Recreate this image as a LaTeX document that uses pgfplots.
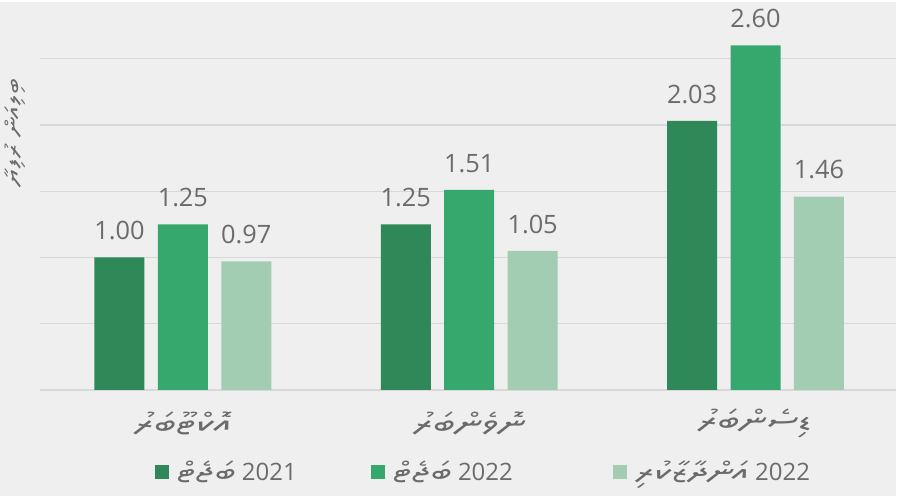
\documentclass[border=0pt]{standalone}
\usepackage{pgfplots}
\pgfplotsset{compat=1.18}
\usepackage{fontspec}
\setmainfont{Open Sans}
\TeXXeTstate=1
\newfontfamily\thaana[Script=Thaana, FakeStretch=1.45]{Noto Sans Thaana}
\definecolor{bg}{HTML}{EFEFEF}
\definecolor{cA}{HTML}{2E8857}
\definecolor{cB}{HTML}{36A86D}
\definecolor{cC}{HTML}{A3CDB3}
\definecolor{gridc}{HTML}{D8D8D8}
\definecolor{txt}{HTML}{6B6B6B}
\newcommand{\thtxt}[1]{{\thaana\beginR #1\endR}}
\newcommand{\thleg}[1]{\hspace{4pt}{\thaana\fontsize{20}{20}\selectfont\beginR #1\endR}}
\begin{document}
\begin{tikzpicture}
\fill[bg] (0,0) rectangle (672.75pt,370.5pt);
\begin{axis}[
 at={(30pt,79.5pt)}, anchor=south west,
 scale only axis, width=642.75pt, height=288.4pt,
 xmin=-0.499, xmax=2.492, ymin=0, ymax=2.9,
 axis line style={draw=none},
 major tick style={draw=none},
 ytick={0,0.5,1,1.5,2,2.5}, yticklabels={},
 ymajorgrids, grid style={draw=gridc, line width=0.9pt},
 xtick={0,1,2},
 xticklabels={\thtxt{އޮކްޓޫބަރު},\thtxt{ނޮވެންބަރު},\thtxt{ޑިސެންބަރު}},
 xticklabel style={anchor=center, yshift=-20.5pt, font=\fontsize{21}{23}\selectfont, text=txt},
 ylabel={\thtxt{ބިލިއަން ރުފިޔާ}},
 ylabel style={at={(axis description cs:-0.029,0.67)}, anchor=center, font=\fontsize{15}{17}\selectfont, text=txt},
 ybar, bar width=37.5pt,
 /pgf/number format/assume math mode=true,
 nodes near coords={\pgfmathprintnumber[fixed,fixed zerofill,precision=2]{\pgfplotspointmeta}},
 nodes near coords style={font=\fontsize{19}{19}\selectfont, text=txt, inner sep=0pt, anchor=south, yshift=12.75pt},
 legend style={at={(axis description cs:0.518,-0.2133)}, anchor=center, draw=none, fill=none,
   font=\fontsize{18}{18}\selectfont, text=txt,
   /tikz/column 2/.style={column sep=53.5pt}, /tikz/column 4/.style={column sep=73.5pt}},
 legend columns=3,
 legend image code/.code={\fill[#1] (0pt,-5.25pt) rectangle (10.5pt,5.25pt);},
]
\addplot[fill=cA, draw=none, bar shift=-47.6pt] coordinates {(0,1.00) (1,1.25) (2,2.03)};
\addlegendentry{\thleg{ބަޖެޓް}\ 2021}
\addplot[fill=cB, draw=none, bar shift=0pt] coordinates {(0,1.25) (1,1.51) (2,2.60)};
\addlegendentry{\thleg{ބަޖެޓް}\ 2022}
\addplot[fill=cC, draw=none, bar shift=47.6pt] coordinates {(0,0.97) (1,1.05) (2,1.46)};
\addlegendentry{\thleg{އަންދާޒާކުރި}\ 2022}
\end{axis}
\end{tikzpicture}
\end{document}
